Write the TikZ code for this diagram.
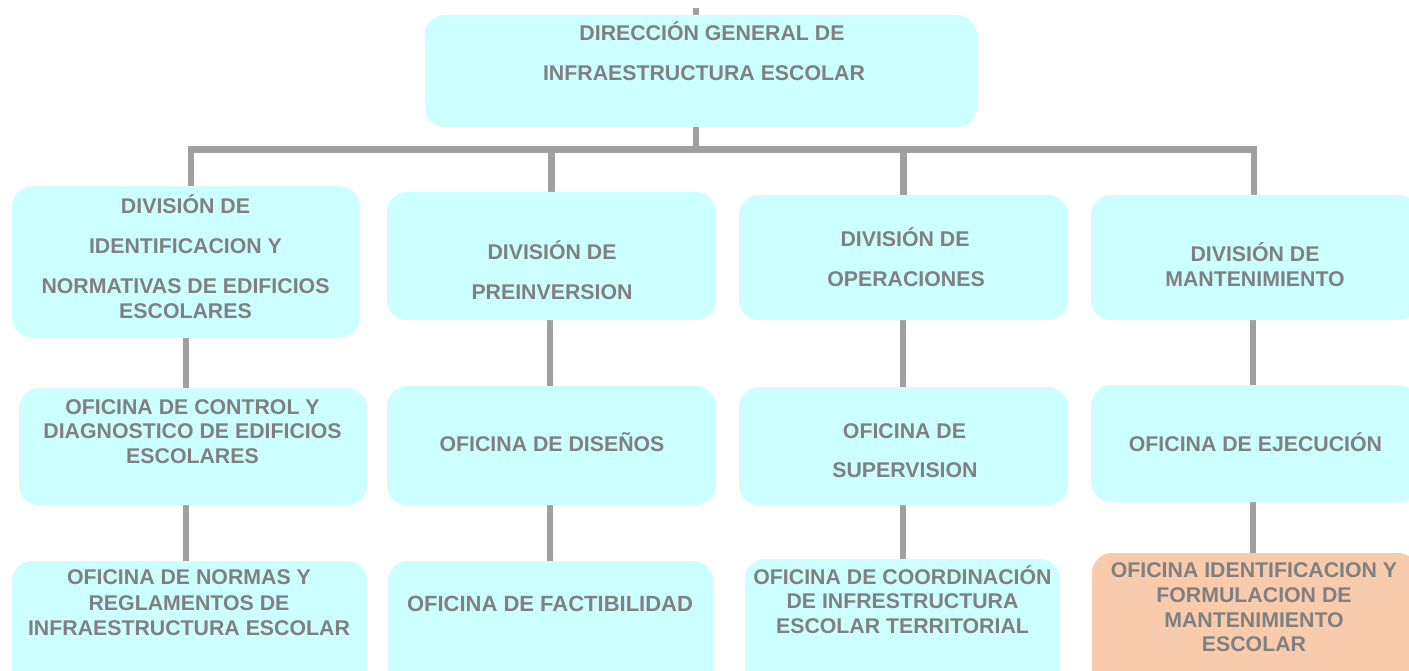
\documentclass[tikz,border=0pt]{standalone}
\usepackage{fontspec}
\setmainfont{Liberation Sans}
\definecolor{boxcyan}{HTML}{CCFFFF}
\definecolor{boxpeach}{HTML}{F8CBAD}
\definecolor{txtgray}{HTML}{808080}
\definecolor{linegray}{HTML}{A0A0A0}
\pgfdeclarelayer{bg}
\pgfsetlayers{bg,main}
\begin{document}
\begin{tikzpicture}[x=1pt,y=-1pt,
  orgbox/.style={rectangle, rounded corners=20pt, fill=boxcyan, draw=none, inner sep=0pt},
  peachbox/.style={orgbox, fill=boxpeach},
  lbl/.style={anchor=base, inner sep=0pt, text=txtgray, font=\fontsize{21.3}{25}\selectfont\bfseries},
  conn/.style={draw=linegray, line width=6.5pt}]
\useasboundingbox (0,0) rectangle (1409,671);
\clip (0,0) rectangle (1409,671);

% boxes
\node[orgbox, minimum width=552pt, minimum height=112pt] (top) at (701,71) {};
\node[orgbox, minimum width=348pt, minimum height=151pt] (d1) at (186,262) {};
\node[orgbox, minimum width=329pt, minimum height=128pt] (d2) at (551.5,256) {};
\node[orgbox, minimum width=329pt, minimum height=125pt] (d3) at (903.5,257.5) {};
\node[orgbox, minimum width=327pt, minimum height=125pt] (d4) at (1254.5,257.5) {};
\node[orgbox, minimum width=348pt, minimum height=117pt] (o1a) at (193,446.5) {};
\node[orgbox, minimum width=329pt, minimum height=119pt] (o2a) at (551.5,445.5) {};
\node[orgbox, minimum width=329pt, minimum height=118pt] (o3a) at (903.5,446) {};
\node[orgbox, minimum width=327pt, minimum height=117pt] (o4a) at (1254.5,443.5) {};
\node[orgbox, minimum width=355pt, minimum height=129pt] (o1b) at (189.5,625.5) {};
\node[orgbox, minimum width=325pt, minimum height=129pt] (o2b) at (550.5,625.5) {};
\node[orgbox, minimum width=315pt, minimum height=131pt] (o3b) at (902.5,624.5) {};
\node[peachbox, minimum width=326pt, minimum height=137pt] (o4b) at (1255,621.5) {};

% connectors
\coordinate (topin) at (696,8);
\coordinate (barL) at (190.8,149.5);
\coordinate (barR) at (1254,149.5);
\coordinate (c1) at (186,0);
\coordinate (c2) at (550,0);
\coordinate (c3) at (903,0);
\coordinate (c4) at (1253,0);
\begin{pgfonlayer}{bg}
\draw[conn] (topin) -- (top.north -| topin);
\draw[conn] (top.south -| topin) -- (topin |- barL);
\draw[conn] (d1.north -| barL) -- (barL) -- (barR) -- (d4.north -| barR);
\draw[conn] (d2.north |- barL) -- (d2.north);
\draw[conn] (d3.north |- barL) -- (d3.north);
\draw[conn] (d1.south -| c1) -- (o1a.north -| c1);
\draw[conn] (o1a.south -| c1) -- (o1b.north -| c1);
\draw[conn] (d2.south -| c2) -- (o2a.north -| c2);
\draw[conn] (o2a.south -| c2) -- (o2b.north -| c2);
\draw[conn] (d3.south -| c3) -- (o3a.north -| c3);
\draw[conn] (o3a.south -| c3) -- (o3b.north -| c3);
\draw[conn] (d4.south -| c4) -- (o4a.north -| c4);
\draw[conn] (o4a.south -| c4) -- (o4b.north -| c4);
\end{pgfonlayer}

% texts
\node[lbl] (topt1) at (712,40.7) {DIRECCIÓN GENERAL DE};
\node[lbl] (topt2) at (704,81) {INFRAESTRUCTURA ESCOLAR};

\node[lbl] (d1t1) at (185.5,213.5) {DIVISIÓN DE};
\node[lbl] (d1t2) at (185.5,254) {IDENTIFICACION Y};
\node[lbl] (d1t3) at (185.5,293.3) {NORMATIVAS DE EDIFICIOS};
\node[lbl] (d1t4) at (185.5,318.5) {ESCOLARES};

\node[lbl] (d2t1) at (552,259.3) {DIVISIÓN DE};
\node[lbl] (d2t2) at (552,299) {PREINVERSION};

\node[lbl] (d3t1) at (905,246.7) {DIVISIÓN DE};
\node[lbl] (d3t2) at (906,286.7) {OPERACIONES};

\node[lbl] (d4t1) at (1255,261.7) {DIVISIÓN DE};
\node[lbl] (d4t2) at (1255,286.7) {MANTENIMIENTO};

\node[lbl] (o1at1) at (192.5,414) {OFICINA DE CONTROL Y};
\node[lbl] (o1at2) at (192.5,438.5) {DIAGNOSTICO DE EDIFICIOS};
\node[lbl] (o1at3) at (192.5,463.3) {ESCOLARES};

\node[lbl] (o2at1) at (552,451.7) {OFICINA DE DISEÑOS};

\node[lbl] (o3at1) at (904.5,438.3) {OFICINA DE};
\node[lbl] (o3at2) at (905,477.7) {SUPERVISION};

\node[lbl] (o4at1) at (1255.5,451.7) {OFICINA DE EJECUCIÓN};

\node[lbl] (o1bt1) at (189,584) {OFICINA DE NORMAS Y};
\node[lbl] (o1bt2) at (189,610) {REGLAMENTOS DE};
\node[lbl] (o1bt3) at (189,635) {INFRAESTRUCTURA ESCOLAR};

\node[lbl, font=\fontsize{22}{26}\selectfont\bfseries] (o2bt1) at (550,611) {OFICINA DE FACTIBILIDAD};

\node[lbl] (o3bt1) at (902.5,584) {OFICINA DE COORDINACIÓN};
\node[lbl] (o3bt2) at (902.5,608.5) {DE INFRESTRUCTURA};
\node[lbl] (o3bt3) at (902.5,633) {ESCOLAR TERRITORIAL};

\node[lbl] (o4bt1) at (1254,577.3) {OFICINA IDENTIFICACION Y};
\node[lbl] (o4bt2) at (1254,602.7) {FORMULACION DE};
\node[lbl] (o4bt3) at (1254,627.3) {MANTENIMIENTO};
\node[lbl] (o4bt4) at (1254,651.7) {ESCOLAR};
\end{tikzpicture}
\end{document}
